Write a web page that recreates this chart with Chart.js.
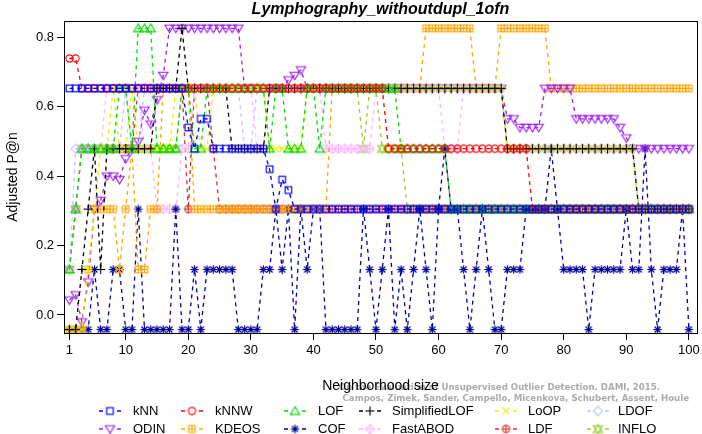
<!DOCTYPE html>
<html>
<head>
<meta charset="utf-8">
<script src="https://cdn.jsdelivr.net/npm/chart.js@4.4.1/dist/chart.umd.min.js"></script>
<style>
html,body{margin:0;padding:0;background:#fff;}
#wrap{position:relative;width:702px;height:434px;}
</style>
</head>
<body>
<div id="wrap"><canvas id="c" width="702" height="434"></canvas></div>
<script>
const neighborhoodSizes = [1,2,3,4,5,6,7,8,9,10,11,12,13,14,15,16,17,18,19,20,21,22,23,24,25,26,27,28,29,30,31,32,33,34,35,36,37,38,39,40,41,42,43,44,45,46,47,48,49,50,51,52,53,54,55,56,57,58,59,60,61,62,63,64,65,66,67,68,69,70,71,72,73,74,75,76,77,78,79,80,81,82,83,84,85,86,87,88,89,90,91,92,93,94,95,96,97,98,99,100];
const xTickValues = [1,10,20,30,40,50,60,70,80,90,100];
const yTickValues = [0,0.2,0.4,0.6,0.8];

const kNN = [0.653,0.653,0.653,0.653,0.653,0.653,0.653,0.653,0.653,0.653,
0.653,0.653,0.653,0.653,0.653,0.653,0.653,0.653,0.653,0.54,
0.479,0.565,0.565,0.479,0.479,0.479,0.479,0.479,0.479,0.479,
0.479,0.479,0.42,0.305,0.39,0.36,0.305,0.305,0.305,0.305,
0.305,0.305,0.305,0.305,0.305,0.305,0.305,0.305,0.305,0.305,
0.305,0.305,0.305,0.305,0.305,0.305,0.305,0.305,0.305,0.305,
0.305,0.305,0.305,0.305,0.305,0.305,0.305,0.305,0.305,0.305,
0.305,0.305,0.305,0.305,0.305,0.305,0.305,0.305,0.305,0.305,
0.305,0.305,0.305,0.305,0.305,0.305,0.305,0.305,0.305,0.305,
0.305,0.305,0.305,0.305,0.305,0.305,0.305,0.305,0.305,0.305];

const kNNW = [0.739,0.739,0.653,0.653,0.653,0.653,0.653,0.653,0.653,0.653,
0.653,0.653,0.653,0.653,0.653,0.653,0.653,0.653,0.653,0.653,
0.653,0.653,0.653,0.653,0.653,0.653,0.653,0.653,0.653,0.653,
0.653,0.653,0.653,0.653,0.653,0.653,0.653,0.653,0.653,0.653,
0.653,0.653,0.653,0.653,0.653,0.653,0.653,0.653,0.653,0.653,
0.653,0.479,0.479,0.479,0.479,0.479,0.479,0.479,0.479,0.479,
0.479,0.479,0.479,0.479,0.479,0.479,0.479,0.479,0.479,0.479,
0.479,0.479,0.479,0.479,0.305,0.305,0.305,0.305,0.305,0.305,
0.305,0.305,0.305,0.305,0.305,0.305,0.305,0.305,0.305,0.305,
0.305,0.305,0.305,0.305,0.305,0.305,0.305,0.305,0.305,0.305];

const LOF = [0.131,0.305,0.479,0.479,0.479,0.479,0.479,0.479,0.653,0.653,
0.479,0.826,0.826,0.826,0.479,0.479,0.479,0.479,0.653,0.653,
0.479,0.479,0.653,0.653,0.653,0.653,0.653,0.653,0.653,0.653,
0.653,0.653,0.479,0.653,0.653,0.479,0.479,0.479,0.653,0.653,
0.479,0.653,0.653,0.653,0.653,0.653,0.653,0.653,0.653,0.653,
0.653,0.653,0.653,0.479,0.479,0.479,0.479,0.479,0.479,0.479,
0.479,0.305,0.305,0.305,0.305,0.305,0.305,0.305,0.305,0.305,
0.305,0.305,0.305,0.305,0.305,0.305,0.305,0.305,0.305,0.305,
0.305,0.305,0.305,0.305,0.305,0.305,0.305,0.305,0.305,0.305,
0.305,0.305,0.305,0.305,0.305,0.305,0.305,0.305,0.305,0.305];

const SimplifiedLOF = [-0.042,-0.042,0.131,0.305,0.479,0.131,0.479,0.479,0.479,0.479,
0.479,0.479,0.479,0.479,0.653,0.653,0.653,0.653,0.826,0.653,
0.653,0.653,0.653,0.653,0.653,0.653,0.479,0.479,0.479,0.479,
0.479,0.479,0.653,0.653,0.653,0.653,0.653,0.653,0.653,0.653,
0.653,0.653,0.653,0.653,0.653,0.653,0.653,0.653,0.653,0.653,
0.653,0.653,0.653,0.653,0.653,0.653,0.653,0.653,0.653,0.653,
0.653,0.653,0.653,0.653,0.653,0.653,0.653,0.653,0.653,0.653,
0.479,0.479,0.479,0.479,0.479,0.479,0.479,0.479,0.479,0.479,
0.479,0.479,0.479,0.479,0.479,0.479,0.479,0.479,0.479,0.479,
0.479,0.305,0.305,0.305,0.305,0.305,0.305,0.305,0.305,0.305];

const LoOP = [-0.042,-0.042,-0.042,0.131,0.305,0.479,0.479,0.653,0.479,0.479,
0.653,0.479,0.479,0.479,0.479,0.479,0.479,0.653,0.653,0.653,
0.653,0.479,0.479,0.653,0.653,0.653,0.653,0.653,0.653,0.653,
0.653,0.653,0.479,0.479,0.479,0.479,0.479,0.479,0.653,0.653,
0.653,0.653,0.653,0.653,0.653,0.653,0.653,0.653,0.653,0.653,
0.653,0.653,0.653,0.653,0.653,0.653,0.653,0.653,0.653,0.653,
0.653,0.653,0.653,0.653,0.653,0.653,0.653,0.653,0.653,0.653,
0.479,0.479,0.479,0.479,0.479,0.479,0.479,0.479,0.479,0.479,
0.479,0.479,0.479,0.479,0.479,0.479,0.479,0.479,0.479,0.479,
0.479,0.305,0.305,0.305,0.305,0.305,0.305,0.305,0.305,0.305];

const LDOF = [0.131,0.479,0.479,0.479,0.479,0.479,0.479,0.479,0.479,0.653,
0.479,0.479,0.653,0.653,0.653,0.653,0.653,0.653,0.653,0.653,
0.653,0.653,0.653,0.653,0.653,0.653,0.653,0.653,0.479,0.479,
0.653,0.653,0.653,0.653,0.653,0.653,0.653,0.653,0.653,0.653,
0.653,0.653,0.653,0.653,0.653,0.653,0.653,0.653,0.653,0.653,
0.653,0.653,0.653,0.653,0.653,0.653,0.653,0.653,0.653,0.653,
0.653,0.653,0.653,0.653,0.653,0.653,0.653,0.653,0.653,0.653,
0.479,0.479,0.479,0.479,0.479,0.479,0.479,0.479,0.479,0.479,
0.479,0.479,0.479,0.479,0.479,0.479,0.479,0.479,0.479,0.479,
0.479,0.305,0.305,0.305,0.305,0.305,0.305,0.305,0.305,0.305];

const ODIN = [0.043,0.058,-0.02,0.095,0.305,0.33,0.40,0.40,0.39,0.45,
0.479,0.50,0.59,0.55,0.62,0.69,0.826,0.826,0.826,0.826,
0.826,0.826,0.826,0.826,0.826,0.826,0.826,0.826,0.653,0.653,
0.653,0.653,0.653,0.653,0.653,0.677,0.69,0.706,0.653,0.653,
0.653,0.653,0.653,0.653,0.653,0.653,0.653,0.653,0.653,0.653,
0.653,0.653,0.653,0.653,0.653,0.653,0.653,0.653,0.653,0.653,
0.653,0.653,0.653,0.653,0.653,0.653,0.653,0.653,0.653,0.653,
0.565,0.565,0.54,0.54,0.54,0.54,0.653,0.653,0.653,0.653,
0.653,0.565,0.565,0.565,0.565,0.565,0.565,0.565,0.54,0.51,
0.479,0.479,0.479,0.479,0.479,0.479,0.479,0.479,0.479,0.479];

const KDEOS = [-0.042,-0.042,-0.042,0.131,0.305,0.305,0.305,0.305,0.131,0.305,
0.479,0.131,0.131,0.305,0.305,0.653,0.653,0.653,0.653,0.653,
0.305,0.305,0.305,0.305,0.305,0.305,0.305,0.305,0.305,0.305,
0.305,0.305,0.305,0.305,0.305,0.305,0.305,0.305,0.305,0.305,
0.305,0.305,0.653,0.653,0.653,0.653,0.653,0.653,0.653,0.653,
0.653,0.653,0.653,0.653,0.653,0.653,0.653,0.826,0.826,0.826,
0.826,0.826,0.826,0.826,0.826,0.653,0.653,0.653,0.653,0.826,
0.826,0.826,0.826,0.826,0.826,0.826,0.826,0.653,0.653,0.653,
0.653,0.653,0.653,0.653,0.653,0.653,0.653,0.653,0.653,0.653,
0.653,0.653,0.653,0.653,0.653,0.653,0.653,0.653,0.653,0.653];

const COF = [-0.042,-0.042,-0.042,-0.042,0.131,-0.042,-0.042,0.131,0.131,-0.042,
-0.042,0.305,-0.042,-0.042,-0.042,-0.042,-0.042,0.305,-0.042,-0.042,
0.131,-0.042,0.131,0.131,0.131,0.131,0.131,-0.042,-0.042,-0.042,
-0.042,0.131,0.131,0.305,0.131,0.305,-0.042,0.305,0.131,0.305,
0.305,-0.042,-0.042,-0.042,-0.042,-0.042,-0.042,0.305,0.131,-0.042,
0.131,0.305,-0.042,0.131,-0.042,0.131,0.305,0.131,-0.042,0.305,
0.479,0.305,0.305,0.131,-0.042,0.131,0.305,0.131,-0.042,-0.042,
0.131,0.131,0.131,0.305,0.305,0.305,0.305,0.479,0.305,0.131,
0.131,0.131,0.131,-0.042,0.131,0.131,0.131,0.131,0.131,0.305,
0.131,0.131,0.479,0.131,-0.042,0.131,0.131,0.131,0.305,-0.042];

const FastABOD = [0.131,0.305,0.479,0.479,0.479,0.479,0.653,0.653,0.653,0.653,
0.653,0.653,0.479,0.479,0.305,0.305,0.305,0.305,0.479,0.479,
0.653,0.653,0.653,0.653,0.653,0.653,0.653,0.653,0.653,0.653,
0.479,0.479,0.653,0.653,0.653,0.653,0.653,0.653,0.653,0.653,
0.653,0.479,0.479,0.479,0.479,0.479,0.479,0.479,0.479,0.653,
0.653,0.653,0.653,0.653,0.653,0.653,0.653,0.653,0.653,0.653,
0.479,0.479,0.479,0.653,0.653,0.653,0.653,0.653,0.653,0.653,
0.479,0.479,0.479,0.479,0.479,0.479,0.479,0.479,0.479,0.479,
0.479,0.479,0.479,0.479,0.479,0.479,0.479,0.479,0.479,0.479,
0.479,0.305,0.305,0.305,0.305,0.305,0.305,0.305,0.305,0.305];

const LDF = [0.131,0.305,0.479,0.479,0.479,0.479,0.479,0.479,0.479,0.479,
0.479,0.653,0.653,0.653,0.653,0.653,0.653,0.653,0.653,0.305,
0.653,0.653,0.653,0.479,0.305,0.305,0.305,0.305,0.305,0.305,
0.305,0.305,0.305,0.305,0.305,0.305,0.305,0.305,0.305,0.305,
0.305,0.305,0.305,0.305,0.305,0.305,0.305,0.305,0.305,0.305,
0.305,0.305,0.305,0.305,0.305,0.305,0.305,0.305,0.305,0.305,
0.305,0.305,0.305,0.305,0.305,0.305,0.305,0.305,0.305,0.305,
0.305,0.305,0.305,0.305,0.305,0.305,0.305,0.305,0.305,0.305,
0.305,0.305,0.305,0.305,0.305,0.305,0.305,0.305,0.305,0.305,
0.305,0.305,0.305,0.305,0.305,0.305,0.305,0.305,0.305,0.305];

const INFLO = [0.131,0.305,0.479,0.479,0.479,0.479,0.479,0.479,0.479,0.479,
0.479,0.479,0.479,0.479,0.479,0.479,0.479,0.479,0.653,0.653,
0.653,0.653,0.653,0.653,0.653,0.653,0.653,0.653,0.653,0.653,
0.653,0.653,0.653,0.653,0.653,0.653,0.653,0.653,0.653,0.653,
0.653,0.653,0.653,0.653,0.653,0.653,0.653,0.479,0.653,0.653,
0.479,0.479,0.479,0.479,0.305,0.305,0.305,0.305,0.305,0.305,
0.305,0.305,0.305,0.305,0.305,0.305,0.305,0.305,0.305,0.305,
0.305,0.305,0.305,0.305,0.305,0.305,0.305,0.305,0.305,0.305,
0.305,0.305,0.305,0.305,0.305,0.305,0.305,0.305,0.305,0.305,
0.305,0.305,0.305,0.305,0.305,0.305,0.305,0.305,0.305,0.305];

const seriesNames = ['kNN','kNNW','LOF','SimplifiedLOF','LoOP','LDOF','ODIN','KDEOS','COF','FastABOD','LDF','INFLO'];
const seriesValues = [kNN,kNNW,LOF,SimplifiedLOF,LoOP,LDOF,ODIN,KDEOS,COF,FastABOD,LDF,INFLO];
const seriesColors = ['#0000ff','#ff0000','#00dd00','#000000','#eeee00','#c4c4ff','#a020f0','#ffa500','#000099','#ffb8ff','#cd3333','#9acd32'];
const seriesMarkers = ['square','circle','triUp','plus','cross','diamond','triDown','squarePlus','asterisk','diamondPlus','circlePlus','star6'];

function makeMarker(kind, color) {
  const S = 13, c = 6.5;
  const cv = document.createElement('canvas');
  cv.width = S; cv.height = S;
  const g = cv.getContext('2d');
  g.strokeStyle = color; g.lineWidth = 1.15; g.lineCap = 'butt';
  const line = (x1,y1,x2,y2)=>{g.beginPath();g.moveTo(x1,y1);g.lineTo(x2,y2);g.stroke();};
  const poly = (pts)=>{g.beginPath();g.moveTo(pts[0][0],pts[0][1]);for(let i=1;i<pts.length;i++)g.lineTo(pts[i][0],pts[i][1]);g.closePath();g.stroke();};
  const sq = ()=>g.strokeRect(c-3.3,c-3.3,6.6,6.6);
  const circ = ()=>{g.beginPath();g.arc(c,c,3.6,0,Math.PI*2);g.stroke();};
  const dia = ()=>poly([[c,c-4.6],[c+4.6,c],[c,c+4.6],[c-4.6,c]]);
  const plus = (r)=>{line(c-r,c,c+r,c);line(c,c-r,c,c+r);};
  const xx = (r)=>{line(c-r,c-r,c+r,c+r);line(c-r,c+r,c+r,c-r);};
  const tu = ()=>poly([[c,c-4.3],[c-4.6,c+3.3],[c+4.6,c+3.3]]);
  const td = ()=>poly([[c,c+4.3],[c-4.6,c-3.3],[c+4.6,c-3.3]]);
  switch(kind){
    case 'square': sq(); break;
    case 'circle': circ(); break;
    case 'triUp': tu(); break;
    case 'plus': plus(4.6); break;
    case 'cross': xx(3.4); break;
    case 'diamond': dia(); break;
    case 'triDown': td(); break;
    case 'squarePlus': sq(); plus(3.3); break;
    case 'asterisk': plus(4.2); xx(3.0); break;
    case 'diamondPlus': dia(); plus(4.6); break;
    case 'circlePlus': circ(); plus(3.6); break;
    case 'star6': tu(); td(); break;
  }
  return cv;
}

const markerCanvases = seriesMarkers.map((m,i)=>makeMarker(m, seriesColors[i]));

const datasets = seriesNames.map((name,i)=>({
  label: name,
  data: seriesValues[i].map((v,j)=>({x: neighborhoodSizes[j], y: v})),
  borderColor: seriesColors[i],
  backgroundColor: seriesColors[i],
  borderWidth: 1.3,
  borderDash: [4,4],
  pointStyle: markerCanvases[i],
  pointRadius: 3,
  pointHoverRadius: 3,
  tension: 0,
  fill: false
}));

const FONT = '"Liberation Sans", Arial, Helvetica, sans-serif';

const decor = {
  id: 'decor',
  afterDraw(chart) {
    const ctx = chart.ctx, a = chart.chartArea;
    ctx.save();
    // box
    ctx.strokeStyle = '#000'; ctx.lineWidth = 1;
    ctx.strokeRect(Math.round(a.left)+0.5, Math.round(a.top)+0.5, Math.round(a.right-a.left), Math.round(a.bottom-a.top));
    // title
    ctx.fillStyle = '#000';
    ctx.font = 'italic bold 16px ' + FONT;
    ctx.textAlign = 'center'; ctx.textBaseline = 'middle';
    ctx.fillText('Lymphography_withoutdupl_1ofn', (a.left+a.right)/2, 10);
    // y title
    ctx.save();
    ctx.translate(13, (a.top+a.bottom)/2);
    ctx.rotate(-Math.PI/2);
    ctx.font = '14px ' + FONT;
    ctx.fillText('Adjusted P@n', 0, 0);
    ctx.restore();
    // watermark
    ctx.fillStyle = '#ababab';
    const w2 = 'Campos, Zimek, Sander, Campello, Micenkova, Schubert, Assent, Houle';
    const w1 = 'On the Evaluation of Unsupervised Outlier Detection. DAMI, 2015.';
    ctx.font = 'bold 10px "DejaVu Sans Condensed", "DejaVu Sans", sans-serif';
    const mw = ctx.measureText(w2).width;
    const fs = 10 * 347 / mw;
    ctx.font = 'bold ' + fs.toFixed(2) + 'px "DejaVu Sans Condensed", "DejaVu Sans", sans-serif';
    ctx.textAlign = 'right';
    ctx.fillText(w1, 660, 388);
    ctx.fillText(w2, 689, 399);
    // x title
    ctx.fillStyle = '#000';
    ctx.textAlign = 'center';
    ctx.font = '14px ' + FONT;
    ctx.fillText('Neighborhood size', (a.left+a.right)/2, 386);
    // legend
    const colMarker = [110, 192, 295, 370, 506, 598];
    const colText = [133, 215, 318, 392, 528, 618];
    const rowY = [411, 429];
    ctx.font = '13px ' + FONT;
    ctx.textAlign = 'left';
    seriesNames.forEach((name,i)=>{
      const r = Math.floor(i/6), col = i%6;
      const mx = colMarker[col], my = rowY[r];
      ctx.strokeStyle = seriesColors[i]; ctx.lineWidth = 1.3;
      ctx.beginPath();
      ctx.moveTo(mx-11, my); ctx.lineTo(mx-7, my);
      ctx.moveTo(mx+7, my); ctx.lineTo(mx+11, my);
      ctx.stroke();
      const mc = markerCanvases[i];
      ctx.drawImage(mc, mx - mc.width/2, my - mc.height/2);
      ctx.fillStyle = '#000';
      ctx.fillText(name, colText[col], my);
    });
    ctx.restore();
  }
};

new Chart(document.getElementById('c'), {
  type: 'line',
  data: { datasets },
  options: {
    responsive: false,
    animation: false,
    devicePixelRatio: 1,
    layout: { padding: { left: 0, right: 5, top: 21, bottom: 0 } },
    plugins: { legend: { display: false }, tooltip: { enabled: false }, title: { display: false } },
    scales: {
      x: {
        type: 'linear', min: 0.14, max: 101.3,
        afterBuildTicks: (s) => { s.ticks = xTickValues.map(v => ({ value: v })); },
        afterFit: (s) => { s.height = 101; s.paddingLeft = 0; s.paddingRight = 0; },
        ticks: { font: { size: 13, family: FONT }, color: '#000', padding: 3, maxRotation: 0, autoSkip: false, callback: (v) => String(v) },
        grid: { display: true, drawOnChartArea: false, drawTicks: true, tickLength: 7, color: '#000' },
        border: { display: true, color: '#000', width: 1 }
      },
      y: {
        type: 'linear', min: -0.052, max: 0.847,
        afterBuildTicks: (s) => { s.ticks = yTickValues.map(v => ({ value: v })); },
        afterFit: (s) => { s.width = 64; s.paddingTop = 0; s.paddingBottom = 0; },
        ticks: { font: { size: 13, family: FONT }, color: '#000', padding: 3, autoSkip: false, callback: (v) => v.toFixed(1) },
        grid: { display: true, drawOnChartArea: false, drawTicks: true, tickLength: 7, color: '#000' },
        border: { display: true, color: '#000', width: 1 }
      }
    }
  },
  plugins: [decor]
});
</script>
</body>
</html>
